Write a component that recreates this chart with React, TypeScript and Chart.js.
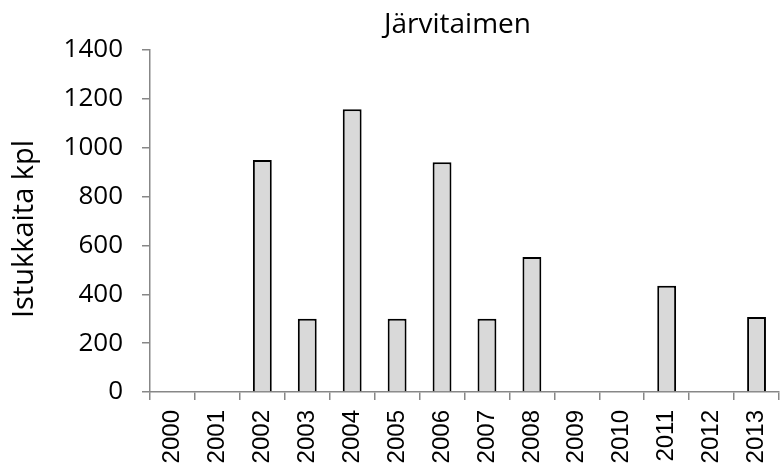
import { useEffect, useRef } from "react";
import { Chart, registerables } from "chart.js";

Chart.register(...registerables);

// Stocking counts per year (empty years have no bar)
const years = [
  "2000", "2001", "2002", "2003", "2004", "2005", "2006",
  "2007", "2008", "2009", "2010", "2011", "2012", "2013",
];
const stocked: (number | null)[] = [
  null, null, 950, 300, 1157, 300, 940, 300, 553, null, null, 435, null, 307,
];
const yMin = 0;
const yMax = 1400;
const yStep = 200;

const chartTitle = "Järvitaimen";
const yTitle = "Istukkaita kpl";

const axisGray = "#878787";
const barFill = "#d9d9d9";

// Chart title above the plot area and the rotated y-axis title at its left
const plotTitles = {
  id: "plotTitles",
  afterDraw(chart: any) {
    const { ctx, chartArea } = chart;
    ctx.save();
    ctx.fillStyle = "#000";
    ctx.font = "28px 'Open Sans'";
    ctx.textAlign = "center";
    ctx.textBaseline = "alphabetic";
    ctx.fillText(chartTitle, (chartArea.left + chartArea.right) / 2 - 7, chartArea.top - 17);

    ctx.font = "29px 'Open Sans'";
    ctx.textBaseline = "middle";
    ctx.translate(25, (chartArea.top + chartArea.bottom) / 2 + 8);
    ctx.rotate(-Math.PI / 2);
    ctx.fillText(yTitle, 0, 0);
    ctx.restore();
  },
};

export default function App() {
  const canvasRef = useRef<HTMLCanvasElement | null>(null);

  useEffect(() => {
    const canvas = canvasRef.current;
    if (!canvas) return;
    const chart = new Chart(canvas, {
      type: "bar",
      data: {
        labels: years,
        datasets: [
          {
            data: stocked,
            backgroundColor: barFill,
            borderColor: "#000",
            borderWidth: 2,
            categoryPercentage: 1,
            barPercentage: 0.42,
          },
        ],
      },
      options: {
        responsive: false,
        animation: false,
        layout: { padding: { top: 50, right: 2, left: 0, bottom: 0 } },
        plugins: {
          legend: { display: false },
          tooltip: { enabled: false },
          title: { display: false },
        },
        scales: {
          x: {
            grid: {
              display: true,
              drawOnChartArea: false,
              drawTicks: true,
              tickLength: 8,
              color: axisGray,
              lineWidth: 1.5,
              offset: true,
            },
            border: { color: axisGray, width: 1.5 },
            ticks: {
              minRotation: 90,
              maxRotation: 90,
              autoSkip: false,
              padding: 10,
              color: "#000",
              font: { family: "'Liberation Sans', Arial, sans-serif", size: 24 },
            },
            afterFit(scale: any) {
              scale.height = 73;
              scale.paddingLeft = 0;
              scale.paddingRight = 0;
            },
          },
          y: {
            min: yMin,
            max: yMax,
            ticks: {
              stepSize: yStep,
              padding: 19,
              color: "#000",
              font: { family: "'Open Sans', sans-serif", size: 26 },
              callback: (v: any) => String(v),
            },
            grid: {
              drawOnChartArea: false,
              drawTicks: true,
              tickLength: 8,
              color: axisGray,
              lineWidth: 1.5,
            },
            border: { color: axisGray, width: 1.5 },
            title: { display: false },
            afterFit(scale: any) {
              scale.width = 150;
            },
          },
        },
      },
      plugins: [plotTitles],
    });
    return () => chart.destroy();
  }, []);

  return (
    <div style={{ position: "absolute", left: 0, top: 0, width: 781, height: 465 }}>
      <canvas ref={canvasRef} width={781} height={465} style={{ display: "block" }} />
    </div>
  );
}
